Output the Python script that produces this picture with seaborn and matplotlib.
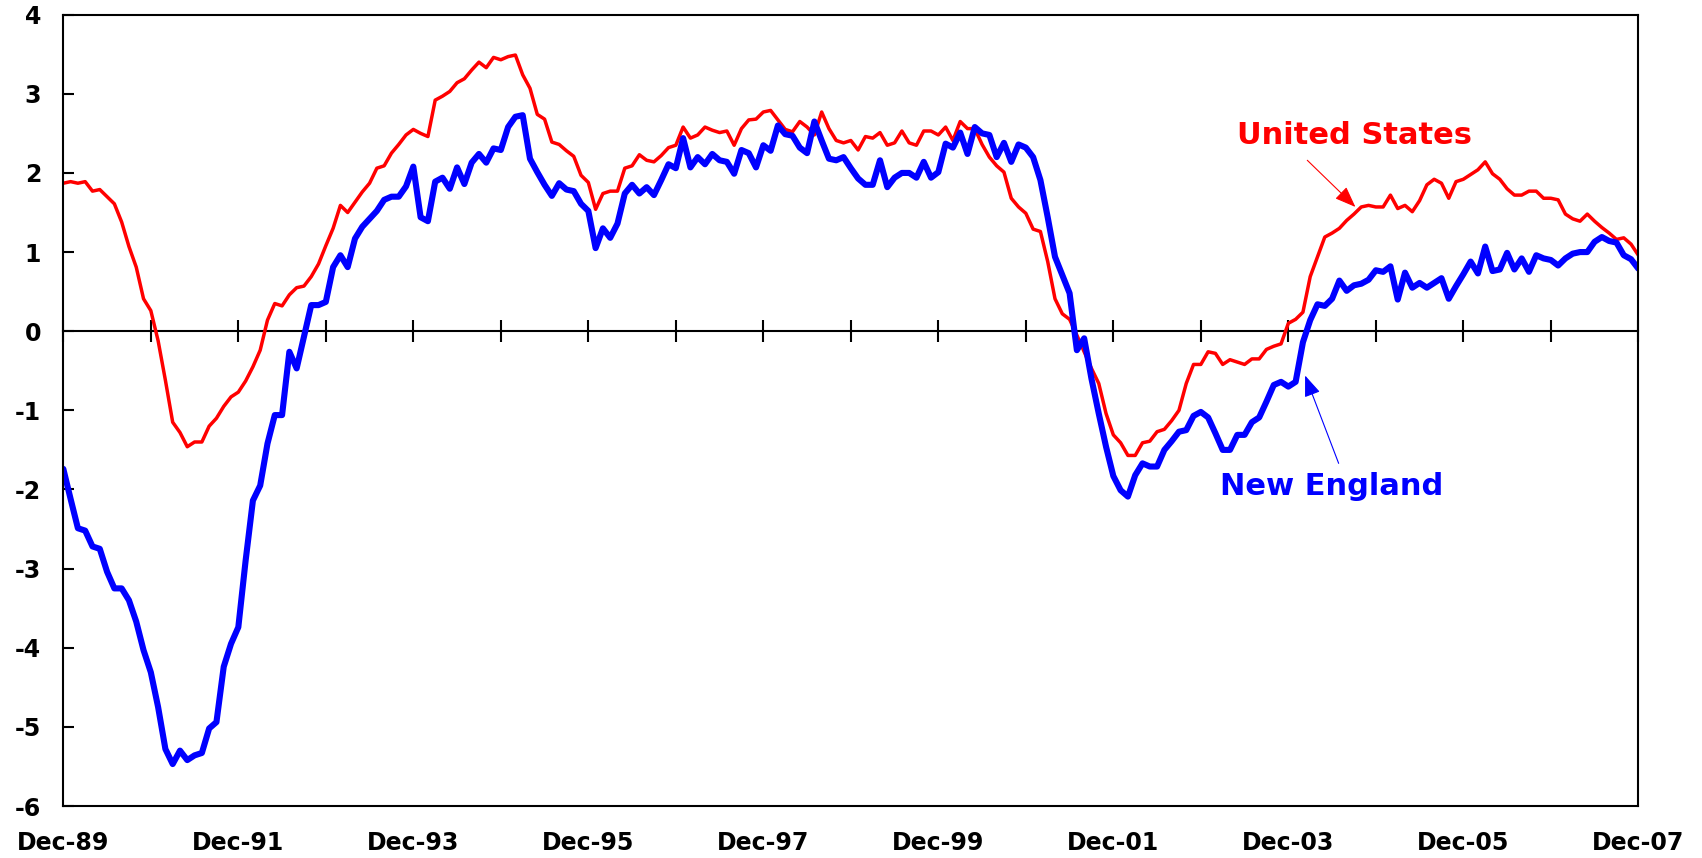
import matplotlib
matplotlib.use('Agg')
import matplotlib.pyplot as plt
import seaborn as sns
import numpy as np
import pandas as pd

# monthly values, Dec-89 .. Dec-07 (one row per year)
united_states = [
    1.87, 1.89, 1.87, 1.89, 1.77, 1.79, 1.70, 1.61, 1.38, 1.07, 0.81, 0.41,
    0.26, -0.12, -0.62, -1.15, -1.28, -1.46, -1.40, -1.40, -1.20, -1.10, -0.95, -0.83,
    -0.77, -0.63, -0.45, -0.24, 0.14, 0.35, 0.32, 0.46, 0.55, 0.57, 0.69, 0.85,
    1.08, 1.30, 1.59, 1.50, 1.63, 1.76, 1.87, 2.06, 2.09, 2.25, 2.36, 2.48,
    2.55, 2.50, 2.46, 2.92, 2.97, 3.03, 3.14, 3.19, 3.30, 3.40, 3.33, 3.46,
    3.43, 3.47, 3.49, 3.24, 3.07, 2.74, 2.68, 2.39, 2.36, 2.28, 2.21, 1.97,
    1.88, 1.54, 1.74, 1.77, 1.77, 2.06, 2.09, 2.23, 2.16, 2.14, 2.22, 2.32,
    2.35, 2.58, 2.44, 2.48, 2.58, 2.54, 2.51, 2.53, 2.35, 2.56, 2.67, 2.68,
    2.77, 2.79, 2.67, 2.55, 2.52, 2.65, 2.58, 2.48, 2.77, 2.56, 2.41, 2.38,
    2.41, 2.29, 2.46, 2.44, 2.51, 2.35, 2.38, 2.53, 2.38, 2.35, 2.53, 2.53,
    2.48, 2.58, 2.41, 2.65, 2.56, 2.56, 2.36, 2.20, 2.09, 2.01, 1.68, 1.57,
    1.49, 1.29, 1.26, 0.88, 0.41, 0.22, 0.15, -0.05, -0.26, -0.47, -0.66, -1.04,
    -1.31, -1.41, -1.57, -1.57, -1.41, -1.39, -1.27, -1.24, -1.13, -1.00, -0.66, -0.42,
    -0.42, -0.26, -0.28, -0.42, -0.36, -0.39, -0.42, -0.35, -0.35, -0.23, -0.19, -0.16,
    0.10, 0.15, 0.24, 0.69, 0.94, 1.19, 1.24, 1.30, 1.40, 1.48, 1.57, 1.59,
    1.57, 1.57, 1.72, 1.55, 1.59, 1.51, 1.65, 1.85, 1.92, 1.87, 1.68, 1.89,
    1.92, 1.98, 2.04, 2.14, 1.99, 1.92, 1.80, 1.72, 1.72, 1.77, 1.77, 1.68,
    1.68, 1.66, 1.48, 1.42, 1.39, 1.48, 1.39, 1.31, 1.24, 1.16, 1.18, 1.10,
    0.96,
]

new_england = [
    -1.74, -2.12, -2.49, -2.52, -2.72, -2.75, -3.04, -3.25, -3.25, -3.40, -3.67, -4.03,
    -4.31, -4.75, -5.28, -5.47, -5.30, -5.42, -5.36, -5.33, -5.02, -4.94, -4.24, -3.95,
    -3.74, -2.90, -2.14, -1.95, -1.42, -1.06, -1.06, -0.26, -0.47, -0.07, 0.33, 0.33,
    0.37, 0.81, 0.96, 0.81, 1.17, 1.32, 1.42, 1.52, 1.66, 1.70, 1.70, 1.83,
    2.08, 1.44, 1.39, 1.89, 1.94, 1.80, 2.07, 1.86, 2.13, 2.24, 2.13, 2.31,
    2.29, 2.58, 2.71, 2.73, 2.18, 2.01, 1.85, 1.71, 1.87, 1.79, 1.77, 1.61,
    1.52, 1.05, 1.30, 1.18, 1.36, 1.74, 1.85, 1.74, 1.82, 1.72, 1.91, 2.11,
    2.06, 2.44, 2.07, 2.20, 2.11, 2.24, 2.16, 2.14, 1.99, 2.29, 2.25, 2.07,
    2.35, 2.28, 2.60, 2.49, 2.47, 2.32, 2.25, 2.65, 2.41, 2.18, 2.16, 2.20,
    2.06, 1.93, 1.85, 1.85, 2.16, 1.82, 1.94, 2.00, 2.00, 1.94, 2.14, 1.94,
    2.01, 2.37, 2.32, 2.51, 2.24, 2.58, 2.50, 2.48, 2.20, 2.38, 2.14, 2.36,
    2.32, 2.20, 1.91, 1.44, 0.94, 0.71, 0.48, -0.24, -0.09, -0.60, -1.04, -1.46,
    -1.83, -2.01, -2.09, -1.82, -1.67, -1.71, -1.71, -1.50, -1.39, -1.27, -1.25, -1.07,
    -1.02, -1.09, -1.29, -1.50, -1.50, -1.31, -1.31, -1.15, -1.09, -0.89, -0.68, -0.64,
    -0.70, -0.64, -0.14, 0.14, 0.34, 0.32, 0.41, 0.64, 0.51, 0.58, 0.60, 0.65,
    0.77, 0.75, 0.82, 0.40, 0.74, 0.55, 0.61, 0.55, 0.61, 0.67, 0.41, 0.57,
    0.72, 0.88, 0.73, 1.07, 0.76, 0.78, 0.99, 0.78, 0.92, 0.75, 0.96, 0.92,
    0.90, 0.83, 0.92, 0.98, 1.00, 1.00, 1.13, 1.19, 1.14, 1.12, 0.96, 0.91,
    0.79,
]

year_labels = ['Dec-89', 'Dec-91', 'Dec-93', 'Dec-95', 'Dec-97',
               'Dec-99', 'Dec-01', 'Dec-03', 'Dec-05', 'Dec-07']

RED = '#ff0000'
BLUE = '#0000ff'

months = np.arange(len(united_states))
df = pd.DataFrame({'month': months,
                   'United States': united_states,
                   'New England': new_england})

sns.set_style('white')
plt.rcParams['font.family'] = ['DejaVu Sans']
plt.rcParams['axes.unicode_minus'] = False

fig, ax = plt.subplots(figsize=(17.02, 8.58), dpi=100)
fig.subplots_adjust(left=0.0372, right=0.9626, bottom=0.0606, top=0.9829)

sns.lineplot(data=df, x='month', y='United States', color=RED, linewidth=2.5, ax=ax)
sns.lineplot(data=df, x='month', y='New England', color=BLUE, linewidth=4.4, ax=ax)

ax.set_xlim(0, len(months) - 1)
ax.set_ylim(-6, 4)
ax.set_yticks(range(-6, 5))
ax.set_xticks(months[::24])
ax.set_xticklabels(year_labels)
ax.set_xlabel('')
ax.set_ylabel('')
ax.tick_params(axis='x', length=0, pad=18, labelsize=17, labelcolor='black')
ax.tick_params(axis='y', left=True, direction='in', length=8, width=1.5,
               pad=16, labelsize=17, labelcolor='black', color='black')
for lab in ax.get_xticklabels() + ax.get_yticklabels():
    lab.set_fontweight('bold')
for s in ax.spines.values():
    s.set_color('black')
    s.set_linewidth(1.5)

# zero line with yearly cross ticks (y=0 sits at 60% of the axis height)
zero = ax.secondary_xaxis(0.6)
zero.set_xticks(months[::12])
zero.tick_params(direction='inout', length=16, width=1.5, color='black',
                 labeltop=False, labelbottom=False)
for s in zero.spines.values():
    s.set_color('black')
    s.set_linewidth(1.5)

# labels with pointer arrows
ax.text(177.05, 2.37, 'United States', color=RED, fontsize=22,
        fontweight='bold', ha='center', va='baseline')
ax.annotate('', xy=(177.2, 1.57), xytext=(170.6, 2.16),
            arrowprops=dict(arrowstyle='-|>,head_length=0.65,head_width=0.25',
                            color=RED, lw=0.8, mutation_scale=20,
                            shrinkA=0, shrinkB=0))
ax.text(174.0, -2.07, 'New England', color=BLUE, fontsize=22,
        fontweight='bold', ha='center', va='baseline')
ax.annotate('', xy=(170.3, -0.56), xytext=(174.9, -1.67),
            arrowprops=dict(arrowstyle='-|>,head_length=0.65,head_width=0.25',
                            color=BLUE, lw=0.8, mutation_scale=20,
                            shrinkA=0, shrinkB=0))

fig.savefig('out.png', dpi=100)
